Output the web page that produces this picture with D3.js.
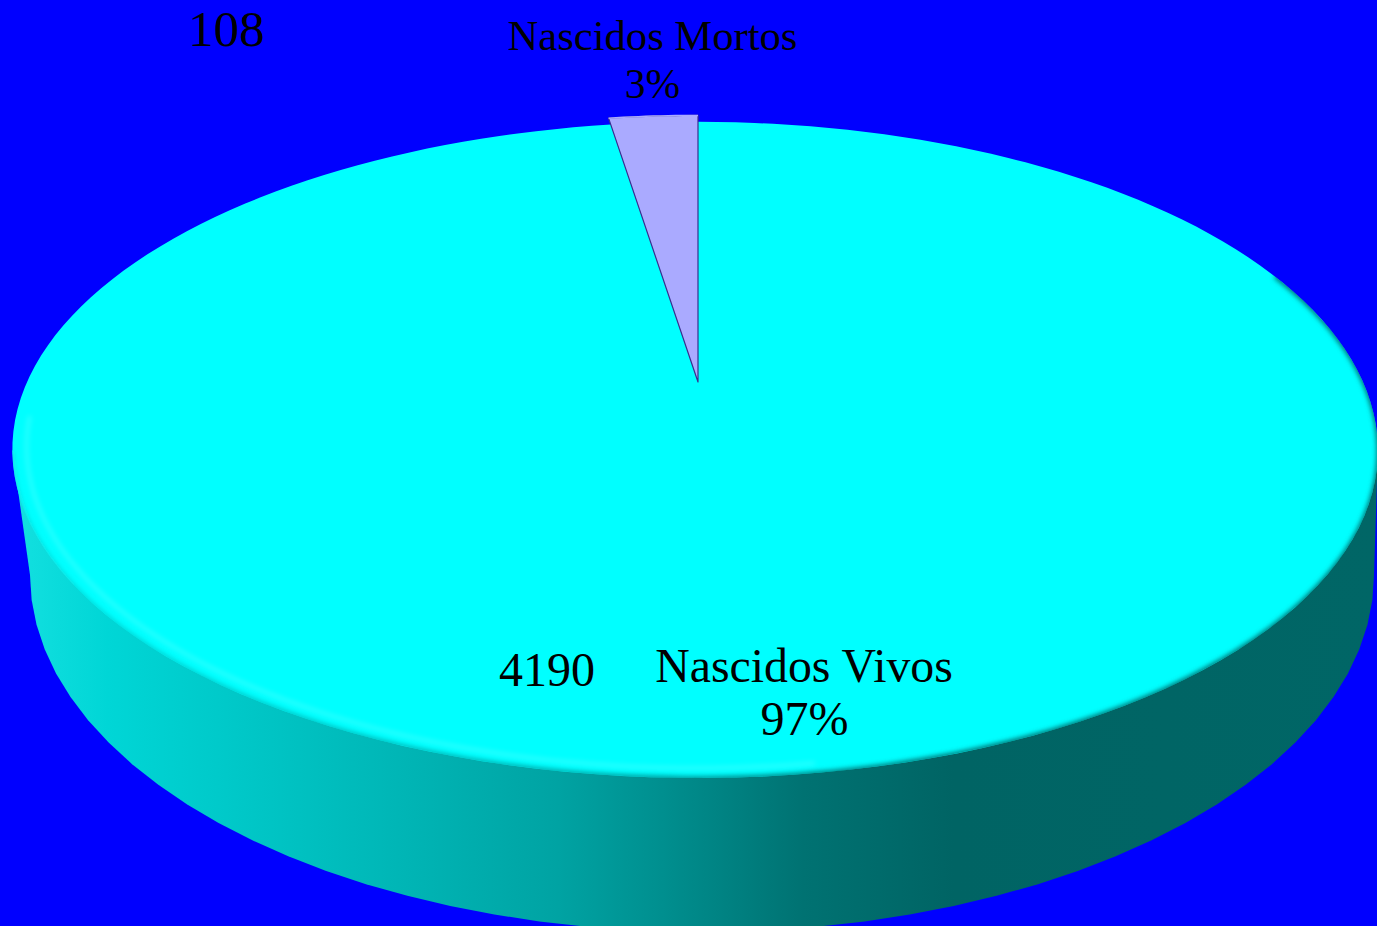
<!DOCTYPE html>
<html>
<head>
<meta charset="utf-8">
<script src="https://cdnjs.cloudflare.com/ajax/libs/d3/7.8.5/d3.min.js"></script>
<style>
    html, body { margin: 0; padding: 0; background: #0000ff; overflow: hidden; }
    text { font-family: "Liberation Serif", serif; fill: #000; }
</style>
</head>
<body>
<div id="graph_container"></div>
<script>
var categories = ["Nascidos Vivos", "Nascidos Mortos"];
var counts     = [4190, 108];
var percents   = ["97%", "3%"];

createGraph();

function createGraph() {
    var frame_width  = 1377,
        frame_height = 926;

    // perspective of the pie top: unit circle -> screen
    var top_face = {cx: 698, cy: 382, rx: 668, ry: 314, tilt: -0.207, skew: 3};
    // bottom rim of the wall
    var rim = {cx: 702, cy: 575, rx: 672, ry: 357};
    var explode = 1.03;
    var widest = Math.PI / 2 + 0.21; // angle where the face is widest on screen

    function project(angle, r) {
        var u = Math.sin(angle) * r,
            v = -Math.cos(angle) * r,
            w = 1 + top_face.tilt * v;
        return [
            top_face.cx + top_face.rx * u / w - top_face.skew * u * u,
            top_face.cy + top_face.ry * v / w
        ];
    }

    function angleSteps(a0, a1, n) {
        return d3.range(n + 1).map(function(i) { return a0 + (a1 - a0) * i / n; });
    }

    var line = d3.line();
    var pie = d3.pie().sort(null).value(function(d) { return d; });
    var slices = pie(counts);

    var svg = d3.select("#graph_container").append("svg")
        .attr("width", frame_width)
        .attr("height", frame_height)
        .style("display", "block");

    svg.append("rect")
        .attr("width", frame_width)
        .attr("height", frame_height)
        .attr("fill", "#0000ff");

    var defs = svg.append("defs");

    // wall shading runs left to right
    var wall = defs.append("linearGradient")
        .attr("id", "wall")
        .attr("gradientUnits", "userSpaceOnUse")
        .attr("x1", 12).attr("x2", 1377).attr("y1", 0).attr("y2", 0);
    [[0, "#14e0e0"], [0.07, "#00d6d6"], [0.27, "#00b8b8"], [0.4, "#00a3a3"],
     [0.48, "#008e8e"], [0.58, "#007272"], [0.69, "#006464"], [1, "#006666"]]
        .forEach(function(s) {
            wall.append("stop").attr("offset", s[0]).attr("stop-color", s[1]);
        });

    defs.append("filter").attr("id", "soft")
        .attr("x", "-5%").attr("y", "-5%").attr("width", "110%").attr("height", "110%")
        .append("feGaussianBlur").attr("stdDeviation", 2.5);

    var full_circle = angleSteps(0, 2 * Math.PI, 180);
    var face_outline = line(full_circle.map(function(a) { return project(a, 1); })) + "Z";

    defs.append("clipPath").attr("id", "face_clip")
        .append("path").attr("d", face_outline);

    // wall: lower rim plus the sides up to the top face
    var rim_points = angleSteps(0, 2 * Math.PI, 90).map(function(a) {
        return [rim.cx + rim.rx * Math.cos(a), rim.cy + rim.ry * Math.sin(a)];
    });
    svg.append("path")
        .attr("d", line(rim_points) + "Z")
        .attr("fill", "url(#wall)");

    svg.append("path")
        .attr("d", line([
            project(-widest, 1),
            [rim.cx - rim.rx, rim.cy],
            [rim.cx + rim.rx, rim.cy],
            project(widest, 1)
        ]) + "Z")
        .attr("fill", "url(#wall)");

    // large slice: the top face
    var big = slices[0];
    var big_points = [project(0, 0)].concat(
        angleSteps(big.startAngle, big.endAngle, 180).map(function(a) { return project(a, 1); })
    );
    svg.append("path")
        .attr("d", line(big_points) + "Z")
        .attr("fill", "#00ffff");

    // soft bevel along the front edge of the face
    var bevel = svg.append("g").attr("clip-path", "url(#face_clip)");
    bevel.append("path")
        .attr("d", line(angleSteps(3.0, 4.6, 100).map(function(a) { return project(a, 0.98); })))
        .attr("fill", "none")
        .attr("stroke", "#66ffff")
        .attr("stroke-width", 3)
        .attr("stroke-linecap", "round")
        .attr("opacity", 0.5)
        .attr("filter", "url(#soft)");
    bevel.append("path")
        .attr("d", line(angleSteps(1.2, 4.5, 150).map(function(a) { return project(a, 1.002); })))
        .attr("fill", "none")
        .attr("stroke", "url(#wall)")
        .attr("stroke-width", 5)
        .attr("filter", "url(#soft)");

    // small slice, pulled out from the rim
    var small = slices[1];
    var small_arc = angleSteps(small.startAngle, small.endAngle, 12).map(function(a) { return project(a, explode); });
    svg.append("path")
        .attr("d", line([project(0, 0)].concat(small_arc)) + "Z")
        .attr("fill", "#aaaaff")
        .attr("stroke", "#3a2f8f")
        .attr("stroke-width", 1.2)
        .attr("stroke-linejoin", "round");
    svg.append("path")
        .attr("d", line(small_arc))
        .attr("fill", "none")
        .attr("stroke", "#aaaaff")
        .attr("stroke-width", 1.5);

    // labels: [text, x, baseline, size]
    var labels = [
        [String(counts[1]), 226, 46, 51],
        [categories[1], 652.5, 50, 42.6],
        [percents[1], 652.5, 98, 41.5],
        [String(counts[0]), 547, 686, 48],
        [categories[0], 804, 682, 47.8],
        [percents[0], 804.5, 735, 48]
    ];
    svg.selectAll("text.label")
        .data(labels)
        .enter().append("text")
        .attr("class", "label")
        .attr("text-anchor", "middle")
        .attr("x", function(d) { return d[1]; })
        .attr("y", function(d) { return d[2]; })
        .attr("font-size", function(d) { return d[3]; })
        .text(function(d) { return d[0]; });
}
</script>
</body>
</html>
